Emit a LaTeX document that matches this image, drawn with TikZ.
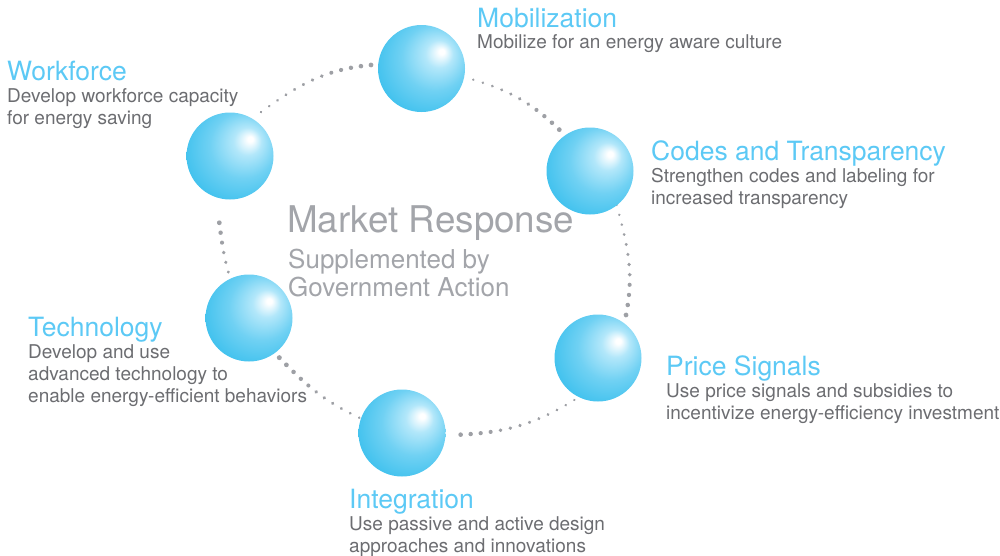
\documentclass[tikz,border=0pt]{standalone}
\usepackage{fontspec}
\setmainfont{TeX Gyre Heros}
\usetikzlibrary{calc,decorations.markings}

\definecolor{titleblue}{RGB}{92,201,245}
\definecolor{blurbgray}{RGB}{108,109,113}
\definecolor{headgray}{RGB}{163,165,170}
\definecolor{dotgray}{RGB}{158,160,165}
\definecolor{sphB}{RGB}{178,231,250}
\definecolor{sphC}{RGB}{112,209,243}
\definecolor{sphD}{RGB}{66,194,238}

% glossy sphere: highlight sits up and to the right
\pgfdeclareradialshading{bluesphere}{\pgfpoint{12bp}{10bp}}{%
  color(0bp)=(white); color(1.5bp)=(white); color(8bp)=(sphB);
  color(19bp)=(sphC); color(31bp)=(sphD); color(50bp)=(sphD)}

\pgfdeclarelayer{back}
\pgfsetlayers{back,main}

\tikzset{
  ball/.style={circle, minimum size=87pt, inner sep=0pt, shading=bluesphere},
  heading/.style={anchor=base west, inner sep=0pt, text=titleblue,
    font=\fontsize{26.5}{30}\selectfont},
  blurb/.style={anchor=base west, inner sep=0pt, text=blurbgray,
    font=\fontsize{19}{22}\selectfont},
  % dotted arc whose dots grow from radius #2 to radius #3, spaced by fraction #1
  dotarc/.style n args={3}{decorate, decoration={markings,
    mark=between positions 0 and 1 step #1 with {%
      \pgfmathsetmacro\dotrad{#2+(#3-#2)*(\pgfkeysvalueof{/pgf/decoration/mark info/sequence number}-1)*#1}%
      \fill[dotgray] (0,0) circle (\dotrad pt);}}}
}

\begin{document}
\begin{tikzpicture}[x=1pt,y=1pt]
\useasboundingbox (0,0) rectangle (1000,-555);

% spheres
\node[ball] (mob)  at (421.5,-68.5) {};
\node[ball] (cod)  at (590,-171) {};
\node[ball] (pri)  at (598,-358) {};
\node[ball] (int)  at (402,-433) {};
\node[ball] (tec)  at (249,-318) {};
\node[ball] (wf)   at (230,-156) {};

% dotted ring segments, drawn beneath the spheres
\begin{pgfonlayer}{back}
\path[dotarc={0.08333}{1.3}{2.4}] ($(wf)+(54.8:53.8)$) to[out=36,in=185.5] ($(mob)+(176:50.6)$);
\path[dotarc={0.09999}{1.3}{2.4}] ($(mob)+(-12.2:53)$) to[out=-17,in=136] ($(cod)+(126.6:51.5)$);
\path[dotarc={0.0909}{1.2}{2.4}] ($(cod)+(-51.9:43.2)$) to[out=-75,in=79] ($(pri)+(56.9:51.3)$);
\path[dotarc={0.07692}{1.3}{2.4}] ($(pri)+(240.6:48.2)$) to[out=211.6,in=1.7] ($(int)+(-2.4:48.7)$);
\path[dotarc={0.09999}{1.4}{2.5}] ($(int)+(160.3:45.4)$) to[out=154.7,in=-45.8] ($(tec)+(-52.6:49.9)$);
\path[dotarc={0.19999}{1.6}{2.4}] ($(tec)+(114.2:50.4)$) to[out=105.6,in=-82.5] ($(wf)+(-99.1:67.6)$);
\end{pgfonlayer}

% centre caption
\node[anchor=base west, inner sep=0pt, text=headgray, font=\fontsize{36.8}{40}\selectfont] (mk-h) at (287,-232) {Market Response};
\node[anchor=base west, inner sep=0pt, text=headgray, font=\fontsize{26}{30}\selectfont] (mk-d1) at (288,-268) {Supplemented by};
\node[anchor=base west, inner sep=0pt, text=headgray, font=\fontsize{26}{30}\selectfont] (mk-d2) at (288,-296) {Government Action};

% labels
\node[heading] (mob-h) at (477,-27.5) {Mobilization};
\node[blurb] (mob-d) at (477,-48) {Mobilize for an energy aware culture};

\node[heading] (wf-h) at (7,-80) {Workforce};
\node[blurb] (wf-d1) at (7,-102) {Develop workforce capacity};
\node[blurb] (wf-d2) at (7,-124) {for energy saving};

\node[heading] (cod-h) at (651,-160) {Codes and Transparency};
\node[blurb] (cod-d1) at (651,-182) {Strengthen codes and labeling for};
\node[blurb] (cod-d2) at (651,-204) {increased transparency};

\node[heading] (pri-h) at (666,-375) {Price Signals};
\node[blurb] (pri-d1) at (666,-397) {Use price signals and subsidies to};
\node[blurb] (pri-d2) at (666,-419) {incentivize energy-efficiency investment};

\node[heading] (int-h) at (349,-508) {Integration};
\node[blurb] (int-d1) at (349,-530) {Use passive and active design};
\node[blurb] (int-d2) at (349,-552) {approaches and innovations};

\node[heading] (tec-h) at (28,-336) {Technology};
\node[blurb] (tec-d1) at (28,-358) {Develop and use};
\node[blurb] (tec-d2) at (28,-380) {advanced technology to};
\node[blurb] (tec-d3) at (28,-402) {enable energy-efficient behaviors};
\end{tikzpicture}
\end{document}
